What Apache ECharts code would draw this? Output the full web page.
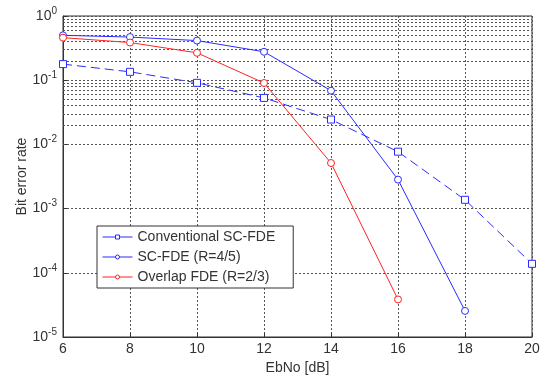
<!DOCTYPE html>
<html>
<head>
<meta charset="utf-8">
<script src="https://cdn.jsdelivr.net/npm/echarts@6/dist/echarts.min.js"></script>
<style>
  html, body { margin: 0; padding: 0; background: #fff; }
  #chart { width: 542px; height: 376px; }
</style>
</head>
<body>
<div id="chart"></div>
<script>
const ebno = [6, 8, 10, 12, 14, 16, 18, 20];
const conventional = [0.178, 0.135, 0.091, 0.053, 0.0244, 0.0077, 0.00137, 0.000138];
const scFde = [0.50, 0.47, 0.414, 0.277, 0.0687, 0.00283, 0.0000255];
const overlapFde = [0.46, 0.386, 0.267, 0.0904, 0.00513, 0.0000385];
const minorDecades = [-5, -4, -3, -2, -1];
const minorSteps = [2, 3, 4, 5, 6, 7, 8, 9];

const fontFamily = 'Liberation Sans';
const blue = '#2a2aff';
const red = '#ff2020';
const gridDash = { color: '#555', width: 1, type: [2, 2] };

function pairs(ys) {
  return ys.map((y, i) => [ebno[i], y]);
}

const minorLines = [];
minorDecades.forEach(d => {
  minorSteps.forEach(m => {
    minorLines.push({ yAxis: m * Math.pow(10, d) });
  });
});

const chart = echarts.init(document.getElementById('chart'));
chart.setOption({
  animation: false,
  textStyle: { fontFamily },
  grid: {
    left: 63,
    right: 10,
    top: 16,
    bottom: 39,
    outerBoundsMode: 'none',
    show: true,
    borderColor: '#333',
    borderWidth: 1,
  },
  legend: {
    orient: 'vertical',
    left: 97,
    top: 226,
    backgroundColor: '#fff',
    borderColor: '#333',
    borderWidth: 1,
    borderRadius: 0,
    padding: [4, 18, 4, 5],
    itemWidth: 30,
    itemHeight: 5,
    itemGap: 6,
    lineStyle: { width: 1, type: 'solid' },
    itemStyle: { borderWidth: 1 },
    textStyle: { fontFamily, fontSize: 14, color: '#333' },
    data: ['Conventional SC-FDE', 'SC-FDE (R=4/5)', 'Overlap FDE (R=2/3)'],
  },
  xAxis: {
    type: 'value',
    min: 6,
    max: 20,
    interval: 2,
    name: 'EbNo [dB]',
    nameLocation: 'middle',
    nameGap: 24,
    nameMoveOverlap: false,
    nameTextStyle: { fontFamily, fontSize: 14, color: '#333' },
    axisLine: { lineStyle: { color: '#333' } },
    axisTick: { inside: true, length: 4, lineStyle: { color: '#333' } },
    axisLabel: { fontFamily, fontSize: 14, color: '#333', margin: 5 },
    splitLine: { show: true, lineStyle: gridDash },
  },
  yAxis: {
    type: 'log',
    logBase: 10,
    min: 1e-5,
    max: 1,
    name: 'Bit error rate',
    nameLocation: 'middle',
    nameGap: 34,
    nameMoveOverlap: false,
    nameTextStyle: { fontFamily, fontSize: 14, color: '#333' },
    axisLine: { lineStyle: { color: '#333' } },
    axisTick: { inside: true, length: 4, lineStyle: { color: '#333' } },
    axisLabel: {
      margin: 6,
      formatter: v => '{b|10}{s|' + Math.round(Math.log10(v)) + '}',
      rich: {
        b: { fontFamily, fontSize: 14, color: '#333' },
        s: { fontFamily, fontSize: 10, color: '#333', verticalAlign: 'bottom', padding: [0, 0, 10, 0] },
      },
    },
    splitLine: { show: true, lineStyle: gridDash },
  },
  series: [
    {
      name: 'Conventional SC-FDE',
      type: 'line',
      data: pairs(conventional),
      symbol: 'rect',
      symbolSize: 7,
      itemStyle: { color: '#fff', borderColor: blue, borderWidth: 1 },
      lineStyle: { color: blue, width: 1, type: [9, 5] },
      z: 3,
      markLine: {
        silent: true,
        symbol: 'none',
        label: { show: false },
        lineStyle: gridDash,
        data: minorLines,
        z: 1,
      },
    },
    {
      name: 'SC-FDE (R=4/5)',
      type: 'line',
      data: pairs(scFde),
      symbol: 'circle',
      symbolSize: 7,
      itemStyle: { color: '#fff', borderColor: blue, borderWidth: 1 },
      lineStyle: { color: blue, width: 1 },
      z: 4,
    },
    {
      name: 'Overlap FDE (R=2/3)',
      type: 'line',
      data: pairs(overlapFde),
      symbol: 'circle',
      symbolSize: 7,
      itemStyle: { color: '#fff', borderColor: red, borderWidth: 1 },
      lineStyle: { color: red, width: 1 },
      z: 5,
    },
  ],
});
</script>
</body>
</html>
